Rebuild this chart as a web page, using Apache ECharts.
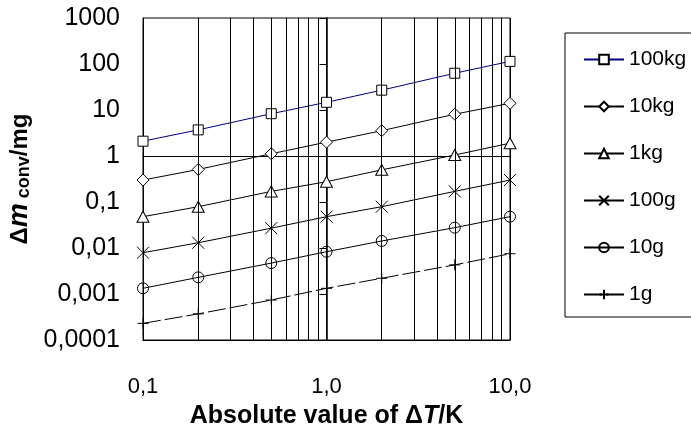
<!DOCTYPE html>
<html>
<head>
<meta charset="utf-8">
<script src="https://cdn.jsdelivr.net/npm/echarts@6/dist/echarts.min.js"></script>
<style>
html,body{margin:0;padding:0;background:#fff;}
#c{width:691px;height:428px;}
</style>
</head>
<body>
<div id="c"></div>
<script>
const dT = [0.1, 0.2, 0.5, 1, 2, 5, 10];
const m100kg = [2.1, 3.7, 8.3, 14.7, 27, 63, 114];
const m10kg = [0.30, 0.51, 1.12, 2.0, 3.55, 8.1, 14];
const m1kg = [0.048, 0.079, 0.17, 0.276, 0.50, 1.05, 1.9];
const m100g = [0.0079, 0.013, 0.027, 0.048, 0.079, 0.17, 0.30];
const m10g = [0.00133, 0.0023, 0.0047, 0.0083, 0.0142, 0.0277, 0.048];
const m1g = [0.00023, 0.00037, 0.00074, 0.00133, 0.0022, 0.0043, 0.0075];
const seriesNames = ['100kg', '10kg', '1kg', '100g', '10g', '1g'];
const yTickLabels = ['0,0001', '0,001', '0,01', '0,1', '1', '10', '100', '1000'];
const xTickLabels = ['0,1', '1,0', '10,0'];
const minorX = [0.2, 0.3, 0.4, 0.5, 0.6, 0.7, 0.8, 0.9, 2, 3, 4, 5, 6, 7, 8, 9];

const FONT = 'Liberation Sans, Arial, sans-serif';
const pair = arr => arr.map((v, i) => [dT[i], v]);

function yLab(v) {
  const k = Math.round(Math.log10(v)) + 4;
  return yTickLabels[k] !== undefined ? yTickLabels[k] : '';
}
function xLab(v) {
  const k = Math.round(Math.log10(v)) + 1;
  return xTickLabels[k] !== undefined ? xTickLabels[k] : '';
}

const grid = {
  left: 143, top: 18, right: 181, bottom: 88,
  outerBoundsMode: 'none', containLabel: false,
  show: true, borderColor: '#000', borderWidth: 1, backgroundColor: 'transparent'
};

function mk(name, data, symbol, size, fill, color, extra) {
  return Object.assign({
    name: name, type: 'line', data: pair(data), xAxisIndex: 0, yAxisIndex: 0,
    symbol: symbol, symbolSize: size, showSymbol: true, z: 3,
    lineStyle: { color: color, width: 1, type: 'solid' },
    itemStyle: { color: fill, borderColor: '#000', borderWidth: 1 },
    emphasis: { disabled: true }
  }, extra || {});
}

const option = {
  animation: false,
  backgroundColor: '#fff',
  textStyle: { fontFamily: FONT },
  grid: grid,
  legend: {
    orient: 'vertical', left: 565, top: 33,
    itemWidth: 40, itemHeight: 12, itemGap: 26,
    padding: [16, 40, 12, 18],
    borderColor: '#000', borderWidth: 1, backgroundColor: '#fff',
    textStyle: { fontSize: 21, color: '#000', fontFamily: FONT, lineHeight: 20 },
    data: seriesNames
  },
  xAxis: [{
    type: 'log', logBase: 10, min: 0.1, max: 10,
    axisLine: { show: true, lineStyle: { color: '#000', width: 1 } },
    axisTick: { show: false },
    axisLabel: { formatter: xLab, fontSize: 22, color: '#000', margin: 36, fontFamily: FONT },
    splitLine: { show: true, lineStyle: { color: '#000', width: 1 } },
    name: '{n|Absolute value of Δ}{i|T}{n|/K}',
    nameLocation: 'middle', nameGap: 64,
    nameTextStyle: {
      rich: {
        n: { fontSize: 25, fontWeight: 'bold', color: '#000', fontFamily: FONT },
        i: { fontSize: 25, fontWeight: 'bold', fontStyle: 'italic', color: '#000', fontFamily: FONT }
      }
    }
  }, {
    type: 'log', logBase: 10, min: 0.1, max: 10, position: 'bottom', offset: -184,
    axisLine: { show: true, lineStyle: { color: '#000', width: 1 } },
    axisTick: { show: true, length: 7, lineStyle: { color: '#000' } },
    axisLabel: { show: false }, splitLine: { show: false }
  }],
  yAxis: [{
    type: 'log', logBase: 10, min: 0.0001, max: 1000,
    axisLine: { show: true, lineStyle: { color: '#000', width: 1 } },
    axisTick: { show: false },
    axisLabel: { formatter: yLab, fontSize: 25, color: '#000', margin: 23, fontFamily: FONT },
    splitLine: { show: false },
    name: '{d|Δ}{m|m}{s| conv}{u|/mg}',
    nameLocation: 'middle', nameGap: 106, nameRotate: 90,
    nameTextStyle: {
      rich: {
        d: { fontSize: 24, fontWeight: 'bold', color: '#000', fontFamily: FONT, verticalAlign: 'bottom' },
        m: { fontSize: 27, fontWeight: 'bold', fontStyle: 'italic', color: '#000', fontFamily: FONT, verticalAlign: 'bottom' },
        s: { fontSize: 18, fontWeight: 'bold', color: '#000', fontFamily: FONT, verticalAlign: 'bottom' },
        u: { fontSize: 24, fontWeight: 'bold', color: '#000', fontFamily: FONT, verticalAlign: 'bottom' }
      }
    }
  }, {
    type: 'log', logBase: 10, min: 0.0001, max: 1000, position: 'left', offset: -183.5,
    axisLine: { show: true, lineStyle: { color: '#000', width: 1.5 } },
    axisTick: { show: true, length: 7, lineStyle: { color: '#000' } },
    axisLabel: { show: false }, splitLine: { show: false }
  }],
  series: [
    {
      type: 'line', data: [], z: 1, silent: true,
      markLine: {
        silent: true, symbol: 'none', animation: false,
        label: { show: false },
        lineStyle: { color: '#000', width: 1, type: 'solid' },
        emphasis: { disabled: true },
        data: minorX.map(v => ({ xAxis: v }))
      }
    },
    mk('100kg', m100kg, 'rect', 10, '#fff', '#000080'),
    mk('10kg', m10kg, 'diamond', [12, 12], '#fff', '#000'),
    mk('1kg', m1kg, 'triangle', [12, 11], '#fff', '#000'),
    mk('100g', m100g, 'path://M0,0L10,10M10,0L0,10', 12, 'rgba(0,0,0,0)', '#000'),
    mk('10g', m10g, 'circle', 11, 'rgba(0,0,0,0)', '#000'),
    mk('1g', m1g, 'path://M5,0L5,10M0,5L10,5', 11, 'rgba(0,0,0,0)', '#000',
      { lineStyle: { color: '#000', width: 1, type: [18, 4] } })
  ]
};

const chart = echarts.init(document.getElementById('c'), null, { renderer: 'canvas' });
chart.setOption(option);
</script>
</body>
</html>
